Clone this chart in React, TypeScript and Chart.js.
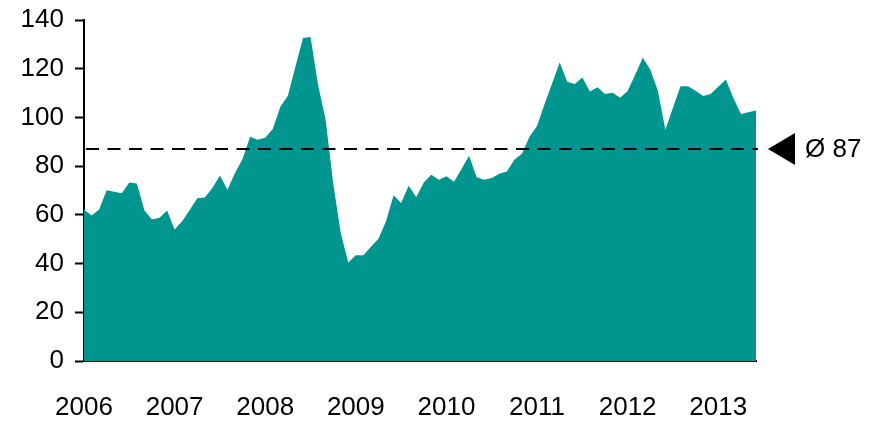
import React, { useEffect, useRef } from 'react';
import { Chart, registerables } from 'chart.js';

Chart.register(...registerables);

const years = ['2006', '2007', '2008', '2009', '2010', '2011', '2012', '2013'];

const values = [
  62.2, 59.7, 62.2, 70.1, 69.5, 68.9, 73.3, 72.9, 61.8, 58.1, 58.8, 61.8,
  54.0, 57.4, 62.0, 66.8, 67.1, 71.0, 76.2, 70.3, 77.2, 82.9, 92.1, 90.8,
  91.7, 95.2, 104.4, 108.9, 120.8, 132.6, 133.0, 113.3, 99.0, 73.0, 52.6, 40.4,
  43.4, 43.4, 46.9, 50.2, 57.4, 68.0, 64.9, 72.0, 67.2, 73.3, 76.5, 74.4,
  75.8, 73.6, 78.8, 84.3, 75.4, 74.4, 75.1, 76.9, 77.8, 82.6, 85.1, 92.1,
  96.5, 105.5, 114.0, 122.6, 114.6, 113.7, 116.4, 110.6, 112.4, 109.6, 110.1, 108.1,
  110.8, 117.5, 124.5, 119.7, 111.0, 94.9, 104.0, 112.8, 112.8, 111.0, 108.8, 109.6,
  112.6, 115.6, 108.0, 101.4, 102.1, 102.8,
];

const average = 87;
const averageLabel = 'Ø 87';

const yMin = 0;
const yMax = 140;
const yStep = 20;

const FONT = '"Liberation Sans", Arial, Helvetica, sans-serif';
const TEAL = '#00968F';

const monthLabels: string[] = [];
years.forEach((y) => {
  for (let m = 1; m <= 12; m++) monthLabels.push(`${y}-${m}`);
});
const labels = monthLabels.slice(0, values.length);

const avgPlugin = {
  id: 'avgLine',
  afterDraw(chart: any) {
    const { ctx, chartArea, scales } = chart;
    const y = scales.y.getPixelForValue(average);
    ctx.save();
    ctx.strokeStyle = '#000';
    ctx.lineWidth = 2;
    ctx.setLineDash([13, 8.5]);
    ctx.beginPath();
    ctx.moveTo(chartArea.left + 2, y);
    ctx.lineTo(chartArea.right + 2, y);
    ctx.stroke();
    ctx.setLineDash([]);
    ctx.beginPath();
    ctx.moveTo(chartArea.right + 12, y);
    ctx.lineTo(chartArea.right + 39, y - 16);
    ctx.lineTo(chartArea.right + 39, y + 16);
    ctx.closePath();
    ctx.fillStyle = '#000';
    ctx.fill();
    ctx.font = `26px ${FONT}`;
    ctx.textBaseline = 'middle';
    ctx.textAlign = 'left';
    ctx.fillText(averageLabel, chartArea.right + 49, y + 1);
    ctx.restore();
  },
};

export default function App() {
  const ref = useRef<HTMLCanvasElement | null>(null);

  useEffect(() => {
    if (!ref.current) return;
    const chart = new Chart(ref.current, {
      type: 'line',
      data: {
        labels,
        datasets: [
          {
            data: values,
            fill: 'origin',
            backgroundColor: TEAL,
            borderColor: TEAL,
            borderWidth: 0,
            pointRadius: 0,
            tension: 0,
          },
        ],
      },
      options: {
        animation: false,
        responsive: false,
        layout: { padding: { top: 20, right: 114, left: 0, bottom: 0 } },
        plugins: {
          legend: { display: false },
          tooltip: { enabled: false },
        },
        scales: {
          x: {
            type: 'category',
            offset: false,
            z: 1,
            grid: { display: false, drawTicks: false },
            border: { display: true, color: '#000', width: 2 },
            ticks: {
              autoSkip: false,
              maxRotation: 0,
              minRotation: 0,
              padding: 31,
              color: '#000',
              font: { family: FONT, size: 26 },
              callback: (_v: any, i: number) => (i % 12 === 0 ? years[i / 12] : ''),
            },
            afterFit: (s: any) => {
              s.height = 60;
              s.paddingLeft = 0;
              s.paddingRight = 0;
            },
          },
          y: {
            min: yMin,
            max: yMax,
            z: 1,
            grid: {
              display: true,
              drawOnChartArea: false,
              drawTicks: true,
              tickLength: 9,
              tickColor: '#000',
              tickWidth: 2,
            },
            border: { display: true, color: '#000', width: 2 },
            ticks: {
              stepSize: yStep,
              padding: 11,
              color: '#000',
              font: { family: FONT, size: 26 },
            },
            afterFit: (s: any) => {
              s.width = 84;
              s.paddingTop = 0;
              s.paddingBottom = 0;
            },
          },
        },
      },
      plugins: [avgPlugin],
    });
    return () => chart.destroy();
  }, []);

  return (
    <div style={{ position: 'fixed', left: 0, top: 0, width: 870, height: 421, background: '#fff' }}>
      <canvas ref={ref} width={870} height={421} />
    </div>
  );
}
